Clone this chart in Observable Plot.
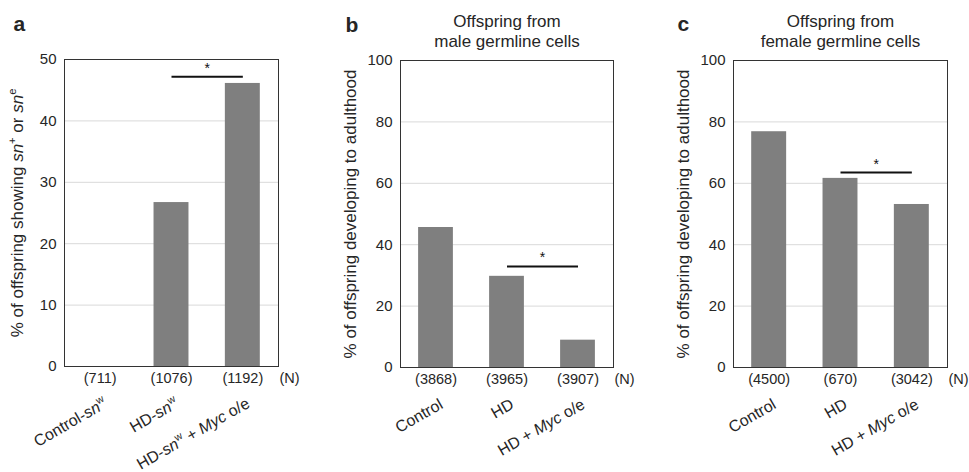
<!DOCTYPE html>
<html><head><meta charset="utf-8">
<script src="https://cdn.jsdelivr.net/npm/d3@7"></script>
<script src="https://cdn.jsdelivr.net/npm/@observablehq/plot@0.6"></script>
<style>
html,body{margin:0;padding:0;background:#fff;}
#wrap{position:relative;width:969px;height:472px;overflow:hidden;font-family:"Liberation Sans",Arial,sans-serif;}
#wrap svg{position:absolute;top:0;overflow:visible;}
</style></head><body><div id="wrap"></div>
<script>
// ---- data ----
const catsA = ["Control-<i>sn</i><sup>w</sup>", "HD-<i>sn</i><sup>w</sup>", "HD-<i>sn</i><sup>w</sup> + <i>Myc</i> o/e"];
const valuesA = [0, 26.7, 46.1];
const nA = [711, 1076, 1192];
const catsBC = ["Control", "HD", "HD + <i>Myc</i> o/e"];
const valuesB = [45.6, 29.7, 8.9];
const nB = [3868, 3965, 3907];
const valuesC = [76.8, 61.6, 53.1];
const nC = [4500, 670, 3042];
const ticksA = [0, 10, 20, 30, 40, 50];
const ticksBC = [0, 20, 40, 60, 80, 100];
const sigA = {from: 1, to: 2, y: 47.2};
const sigB = {from: 1, to: 2, y: 32.9};
const sigC = {from: 1, to: 2, y: 63.5};
const yLabelA = "% of offspring showing <i>sn</i><sup>+</sup> or <i>sn</i><sup>e</sup>";
const yLabelBC = "% of offspring developing to adulthood";
const titleB = "Offspring from\nmale germline cells";
const titleC = "Offspring from\nfemale germline cells";
const nLabel = "(N)";

// ---- helpers ----
const strip = s => s.replace(/<\/?(i|sup)>/g, "");
const NS = "http://www.w3.org/2000/svg";
function setRich(el, markup) {
  const fs = parseFloat(el.getAttribute("font-size") || el.closest("[font-size]")?.getAttribute("font-size") || 14);
  const parts = markup.split(/(<i>.*?<\/i>|<sup>.*?<\/sup>)/).filter(s => s);
  while (el.firstChild) el.removeChild(el.firstChild);
  let raised = false;
  const shift = fs * 0.42;
  for (const p of parts) {
    const ts = document.createElementNS(NS, "tspan");
    if (p.startsWith("<sup>")) {
      ts.textContent = p.slice(5, -6);
      ts.setAttribute("font-size", (fs * 0.65).toFixed(1));
      ts.setAttribute("dy", (-shift).toFixed(1));
      raised = true;
    } else {
      if (p.startsWith("<i>")) { ts.textContent = p.slice(3, -4); ts.setAttribute("font-style", "italic"); }
      else ts.textContent = p;
      if (raised) { ts.setAttribute("dy", shift.toFixed(1)); raised = false; }
    }
    el.appendChild(ts);
  }
}

function panel(cfg) {
  const {letter, cats, values, ns, ticks, sig, ylabel, title, left, width, m, ylx, letterDx, letterDy} = cfg;
  const rows = cats.map((c, i) => ({i, plain: strip(c), v: values[i], n: ns[i]}));
  const yMax = ticks[ticks.length - 1];
  const marks = [
    Plot.ruleY(ticks, {stroke: "#d9d9d9", strokeWidth: 1}),
    Plot.rectY(rows, {x1: d => d.i - 0.245, x2: d => d.i + 0.245, y1: 0, y2: "v", fill: "#7f7f7f"}),
    Plot.link([sig], {x1: "from", x2: "to", y1: "y", y2: "y", stroke: "#111", strokeWidth: 2}),
    Plot.text([sig], {x: d => (d.from + d.to) / 2, y: "y", text: () => "*", dy: -4, lineAnchor: "bottom", fontSize: 14, fill: "#111"}),
    Plot.frame({stroke: "#333"}),
    Plot.text(rows, {x: "i", text: d => `(${d.n})`, frameAnchor: "bottom", dy: 12, lineAnchor: "middle", fontSize: 14.5}),
    Plot.text([nLabel], {frameAnchor: "bottom-right", textAnchor: "start", dx: 1, dy: 12, lineAnchor: "middle", fontSize: 14.5}),
    Plot.text(rows, {x: "i", text: "plain", frameAnchor: "bottom", dx: 8, dy: 40, rotate: -30, textAnchor: "end", lineAnchor: "bottom", fontSize: 16}),
    Plot.text([strip(ylabel)], {frameAnchor: "left", rotate: -90, dx: ylx, textAnchor: "middle", lineAnchor: "middle", fontSize: 17}),
    Plot.text([letter], {frameAnchor: "top-left", dx: letterDx, dy: letterDy, textAnchor: "start", lineAnchor: "bottom", fontWeight: "bold", fontSize: 21})
  ];
  if (title) marks.push(Plot.text([title], {frameAnchor: "top", dy: -14, textAnchor: "middle", lineAnchor: "bottom", lineHeight: 1.15, fontSize: 17}));
  const svg = Plot.plot({
    width, height: 472,
    marginLeft: m[0], marginRight: m[1], marginTop: m[2], marginBottom: m[3],
    x: {domain: [-0.5, 2.5], axis: null},
    y: {domain: [0, yMax], ticks: ticks, tickSize: 0, tickPadding: 8, label: null},
    style: {fontSize: "15px", fontFamily: "'Liberation Sans', Arial, sans-serif", color: "#262626", background: "transparent", overflow: "visible"},
    marks
  });
  const rich = new Map();
  for (const c of cats) rich.set(strip(c), c);
  rich.set(strip(ylabel), ylabel);
  svg.querySelectorAll("text").forEach(t => {
    if (t.children.length === 0 && rich.has(t.textContent) && rich.get(t.textContent) !== t.textContent) setRich(t, rich.get(t.textContent));
  });
  svg.style.left = left + "px";
  document.getElementById("wrap").appendChild(svg);
}

panel({letter: "a", cats: catsA, values: valuesA, ns: nA, ticks: ticksA, sig: sigA, ylabel: yLabelA, title: null,
  left: 0, width: 320, m: [64, 42, 59, 106], ylx: -47, letterDx: -51, letterDy: -29});
panel({letter: "b", cats: catsBC, values: valuesB, ns: nB, ticks: ticksBC, sig: sigB, ylabel: yLabelBC, title: titleB,
  left: 320, width: 320, m: [80, 27, 60, 105], ylx: -50, letterDx: -55, letterDy: -29});
panel({letter: "c", cats: catsBC, values: valuesC, ns: nC, ticks: ticksBC, sig: sigC, ylabel: yLabelBC, title: titleC,
  left: 640, width: 329, m: [93, 22, 60, 105], ylx: -50, letterDx: -56, letterDy: -30});
</script></body></html>
